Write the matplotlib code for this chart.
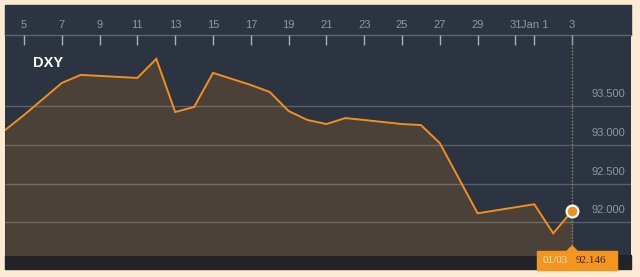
import matplotlib
matplotlib.use("Agg")
import matplotlib.pyplot as plt
import matplotlib.dates as mdates
from matplotlib.patches import Rectangle, Polygon
import pandas as pd

# ---- data ----
dates = pd.date_range("2017-12-04", "2018-01-03", freq="D")
values = [93.190, 93.384, 93.591, 93.798, 93.902, 93.889, 93.876, 93.863,
          94.109, 93.423, 93.488, 93.928, 93.850, 93.772, 93.682, 93.436,
          93.320, 93.268, 93.345, 93.320, 93.294, 93.268, 93.255, 93.022,
          92.569, 92.116, 92.155, 92.194, 92.233, 91.858, 92.146]
tick_dates = list(pd.date_range("2017-12-05", "2017-12-31", freq="2D")) + \
    [pd.Timestamp("2018-01-01"), pd.Timestamp("2018-01-03")]
tick_labels = ["5", "7", "9", "11", "13", "15", "17", "19", "21", "23", "25",
               "27", "29", "31", "Jan 1", "3"]
y_ticks = [92.0, 92.5, 93.0, 93.5]
y_labels = ["92.000", "92.500", "93.000", "93.500"]
title = "DXY"
last_date_label = "01/03"
last_value_label = "92.146"

# ---- style ----
W, H = 640, 277
CREAM = "#fdead4"
DARK = "#2b3440"
FILL = "#4b4139"
BAR = "#232427"
ORANGE = "#f0901f"
TXT = "#8e98a3"

fig = plt.figure(figsize=(W / 100, H / 100), dpi=100)
fig.patch.set_facecolor(CREAM)


def fx(x):
    return x / W


def fy(y):
    return 1 - y / H


# top band of panel
fig.patches.append(Rectangle((fx(5), fy(35)), fx(626), 30 / H,
                             transform=fig.transFigure, color=DARK, zorder=-2))
# bottom bar
fig.patches.append(Rectangle((fx(5), fy(269)), fx(626), 14 / H,
                             transform=fig.transFigure, color=BAR, zorder=-2))

ax = fig.add_axes([fx(5), fy(255), fx(626), 220 / H])
ax.set_facecolor(DARK)

x0 = mdates.date2num(pd.Timestamp("2017-12-04")) - 0.005
ax.set_xlim(x0, x0 + 33.12)
ax.set_ylim(91.578, 94.417)

xd = mdates.date2num(dates)
ax.fill_between(xd, values, 91.0, color=FILL, lw=0, zorder=1)
ax.plot(xd, values, color=ORANGE, lw=1.4, zorder=4, solid_joinstyle="miter")
ax.axvline(xd[-1], color="#85836a", lw=1, ls=(0, (1.2, 1.2)), zorder=3)
ax.plot([xd[-1]], [values[-1]], marker="o", ms=8.5, mfc=ORANGE, mec="white",
        mew=1.6, zorder=5)

# grid
ax.set_yticks(y_ticks)
ax.yaxis.grid(True, color="white", alpha=0.22, lw=1)
ax.set_axisbelow(False)
ax.tick_params(axis="y", left=False, right=False, labelleft=False)
for v, lab in zip(y_ticks, y_labels):
    ax.annotate(lab, xy=(1, v), xycoords=("axes fraction", "data"),
                xytext=(-4.5, 5), textcoords="offset points", ha="right",
                va="bottom", color=TXT, fontsize=8, family="Liberation Sans")

# x axis on top
ax.xaxis.tick_top()
ax.set_xticks(mdates.date2num(tick_dates))
ax.set_xticklabels(tick_labels)
ax.tick_params(axis="x", direction="in", length=7.5, width=1, color="#a9b0b8",
               labelsize=8, labelcolor=TXT, pad=3.5)
for lab in ax.get_xticklabels():
    lab.set_family("Liberation Sans")
for s in ["left", "right", "bottom"]:
    ax.spines[s].set_visible(False)
ax.spines["top"].set_color("#5c6570")
ax.spines["top"].set_linewidth(1)

ax.text(28 / 626, 1 - (63 - 35) / 220, title,
        transform=ax.transAxes, color="white", fontsize=10.5,
        fontweight="bold", family="Liberation Sans", va="center", ha="left")

# last value box
fig.canvas.draw()
px = ax.transData.transform((xd[-1], 92))[0]
box_l, box_r = px - 35, px + 45
fig.patches.append(Rectangle((fx(box_l), fy(270)), fx(box_r - box_l), 19 / H,
                             transform=fig.transFigure, color="#f4951f",
                             zorder=6))
fig.patches.append(Polygon([(fx(px - 5), fy(251)), (fx(px), fy(246)),
                            (fx(px + 5), fy(251))], closed=True,
                           transform=fig.transFigure, color="#f4951f",
                           zorder=6))
fig.text(fx(px - 4), fy(260.5), last_date_label, color="#fde8cc", fontsize=8,
         family="Liberation Serif", ha="right", va="center", zorder=7)
fig.text(fx(px + 4), fy(260.5), last_value_label, color="#3a2612", fontsize=8,
         family="Liberation Serif", ha="left", va="center", zorder=7)

fig.savefig("out.png", dpi=100, facecolor=CREAM)
